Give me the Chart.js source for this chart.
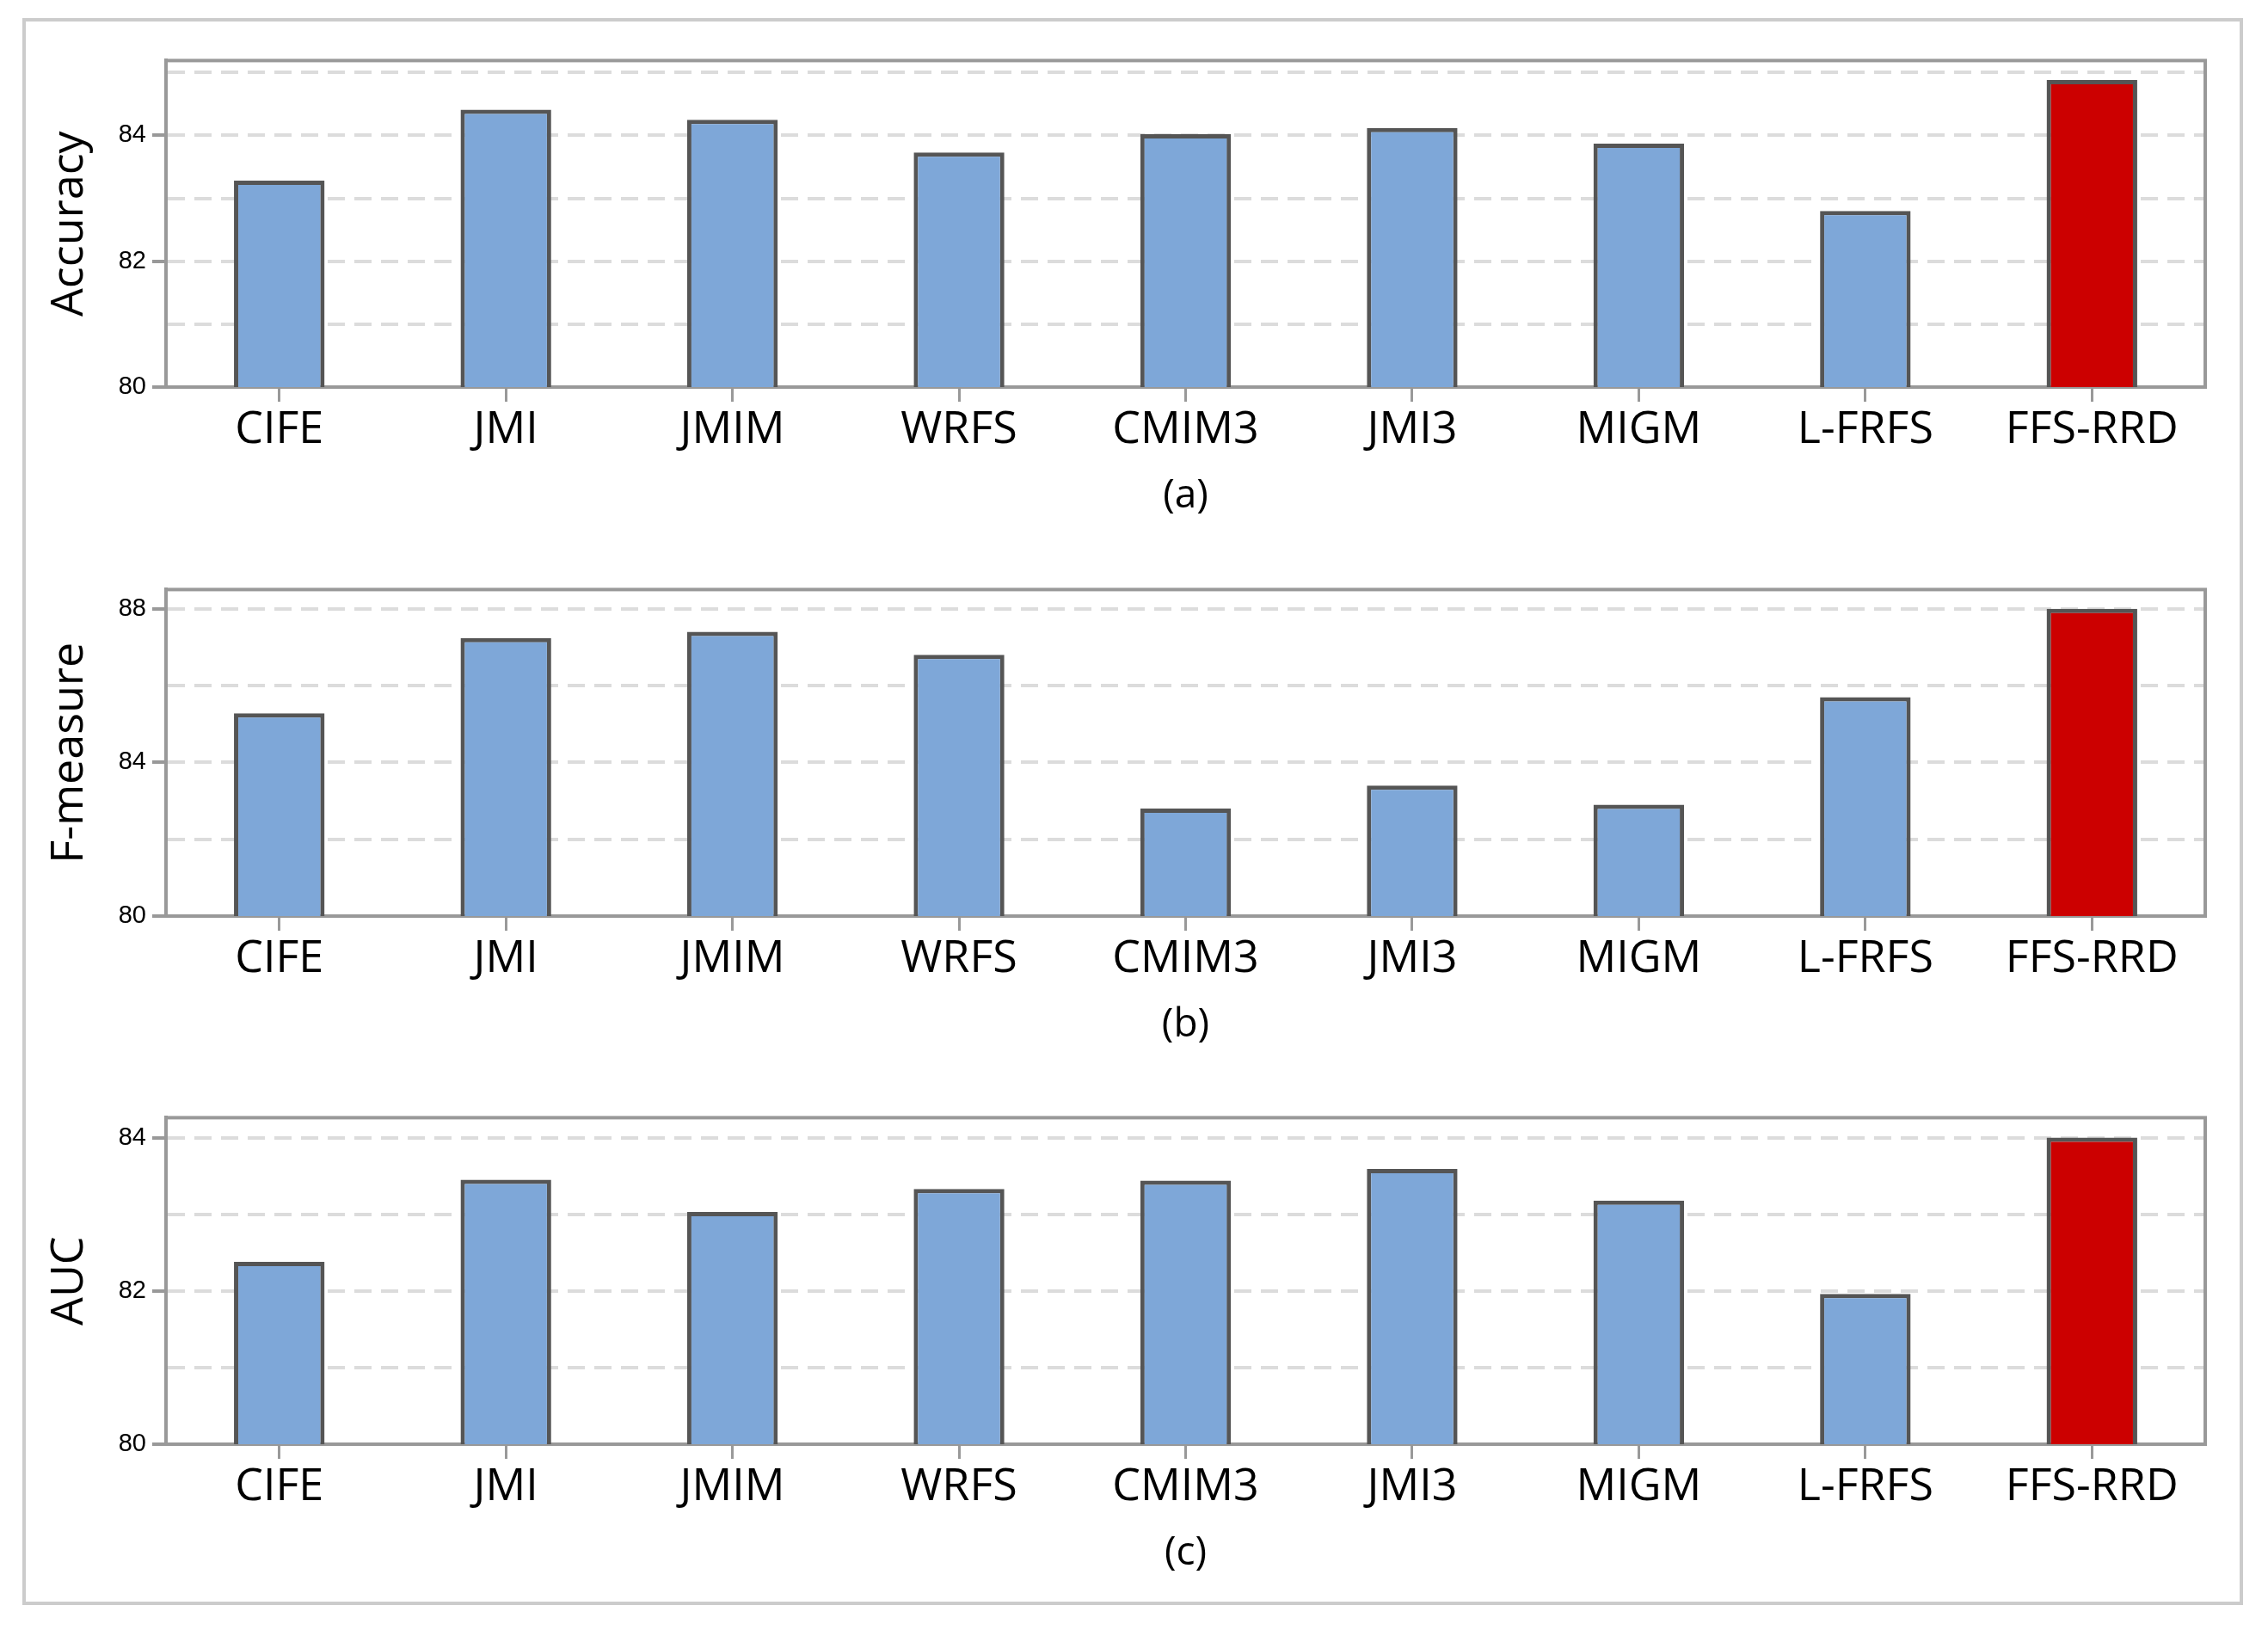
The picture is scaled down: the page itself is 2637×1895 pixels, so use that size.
<!DOCTYPE html>
<html>
<head>
<meta charset="utf-8">
<script src="https://cdn.jsdelivr.net/npm/chart.js@4.4.1/dist/chart.umd.min.js"></script>
<style>
  html, body { margin: 0; padding: 0; background: #fff; }
  body { width: 2637px; height: 1895px; position: relative; overflow: hidden; }
  #frame { position: absolute; left: 26px; top: 21px; width: 2582px; height: 1845px;
           border: 4px solid #cccccc; box-sizing: border-box; }
  canvas { position: absolute; left: 0; }
</style>
</head>
<body>
<div id="frame"></div>
<canvas id="accChart" width="2637" height="574" style="top:46px"></canvas>
<canvas id="fmChart" width="2637" height="574" style="top:661px"></canvas>
<canvas id="aucChart" width="2637" height="574" style="top:1275px"></canvas>
<script>
const methods = ['CIFE', 'JMI', 'JMIM', 'WRFS', 'CMIM3', 'JMI3', 'MIGM', 'L-FRFS', 'FFS-RRD'];
const proposed = 'FFS-RRD';

const accuracy = [83.28, 84.41, 84.25, 83.73, 84.02, 84.12, 83.87, 82.80, 84.88];
const fMeasure = [85.28, 87.24, 87.40, 86.80, 82.80, 83.40, 82.90, 85.70, 88.00];
const auc      = [82.38, 83.45, 83.03, 83.33, 83.44, 83.59, 83.18, 81.96, 84.00];

const accuracyTicks = [80, 82, 84];
const fMeasureTicks = [80, 84, 88];
const aucTicks      = [80, 82, 84];

const axisGray = '#999999';

// draws the top and right sides of the plot box
const plotBox = {
    id: 'plotBox',
    beforeDatasetsDraw(chart) {
        const { ctx, chartArea: a } = chart;
        ctx.save();
        ctx.strokeStyle = axisGray;
        ctx.lineWidth = 4;
        ctx.strokeRect(a.left, a.top, a.right - a.left, a.bottom - a.top);
        ctx.restore();
    }
};

function makePanel(id, values, yTitle, caption, labeled, step, yMax) {
    const ctx = document.getElementById(id).getContext('2d');
    new Chart(ctx, {
        type: 'bar',
        data: {
            labels: methods,
            datasets: [{
                data: values,
                backgroundColor: methods.map(m => m === proposed ? '#cc0000' : '#7ea7d8'),
                borderColor: '#555555',
                borderWidth: 5,
                borderSkipped: false,
                barPercentage: 0.4,
                categoryPercentage: 1.0
            }]
        },
        options: {
            responsive: false,
            animation: false,
            devicePixelRatio: 1,
            layout: { padding: { left: 0, right: 73, top: 20, bottom: 0 } },
            plugins: { legend: { display: false }, tooltip: { enabled: false } },
            scales: {
                x: {
                    afterFit: s => { s.height = 170; },
                    grid: {
                        offset: false,
                        drawOnChartArea: false,
                        tickLength: 17,
                        tickColor: axisGray,
                        tickWidth: 3
                    },
                    border: { color: axisGray, width: 4 },
                    ticks: {
                        color: '#000',
                        padding: 2,
                        font: { family: 'Open Sans', size: 52 }
                    },
                    title: {
                        display: true,
                        text: caption,
                        color: '#000',
                        padding: { top: 0, bottom: 16 },
                        font: { family: 'Open Sans', size: 46 }
                    }
                },
                y: {
                    min: 80,
                    max: yMax,
                    afterFit: s => { s.width = 193; },
                    grid: {
                        color: '#dcdcdc',
                        lineWidth: 4,
                        tickLength: 16,
                        tickWidth: 4,
                        tickBorderDash: [],
                        tickColor: c => labeled.includes(c.tick.value) ? axisGray : 'rgba(0,0,0,0)'
                    },
                    border: { color: axisGray, width: 4, dash: [20, 11] },
                    ticks: {
                        stepSize: step,
                        includeBounds: false,
                        padding: 7,
                        color: '#000',
                        font: { family: 'Liberation Sans', size: 29 },
                        callback: v => labeled.includes(v) ? String(v) : ''
                    },
                    title: {
                        display: true,
                        text: yTitle,
                        color: '#000',
                        padding: { top: 50, bottom: 0 },
                        font: { family: 'Open Sans', size: 52 }
                    }
                }
            }
        },
        plugins: [plotBox]
    });
}

makePanel('accChart', accuracy, 'Accuracy', '(a)', accuracyTicks, 1, 85.19);
makePanel('fmChart', fMeasure, 'F-measure', '(b)', fMeasureTicks, 2, 88.5);
makePanel('aucChart', auc, 'AUC', '(c)', aucTicks, 1, 84.26);
</script>
</body>
</html>
